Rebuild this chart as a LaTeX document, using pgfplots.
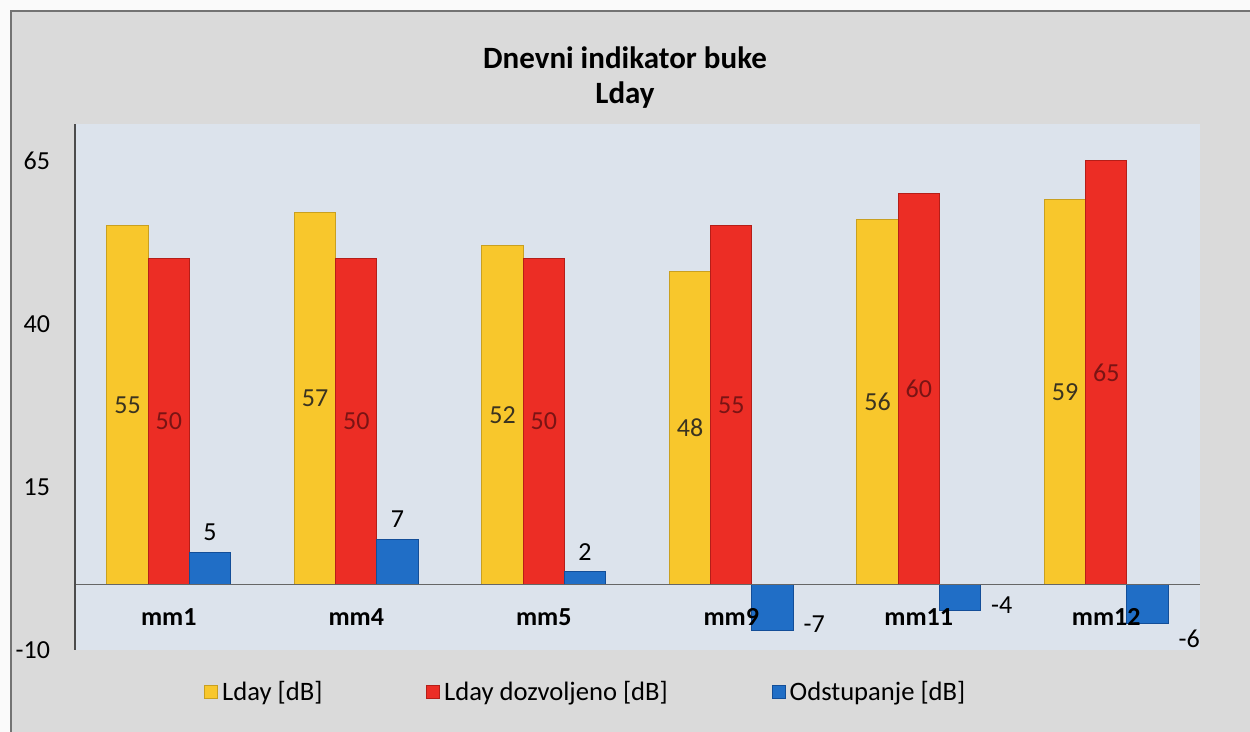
\documentclass[border=0pt]{standalone}
\usepackage{pgfplots}
\pgfplotsset{compat=1.18}
\usepackage{fontspec}
\setmainfont{Carlito}
\definecolor{paper}{HTML}{DADADA}
\definecolor{plotbg}{HTML}{DCE3EC}
\definecolor{yel}{HTML}{F8C72C}
\definecolor{yeld}{HTML}{C9A020}
\definecolor{redm}{HTML}{EC2D25}
\definecolor{redd}{HTML}{B51E18}
\definecolor{blum}{HTML}{206EC6}
\definecolor{blud}{HTML}{134E98}
\definecolor{redlab}{HTML}{7A1414}
\definecolor{yellab}{HTML}{3A3320}

\pgfplotstableread{
x lday dozv
0 55 50
1 57 50
2 52 50
3 48 55
4 56 60
5 59 65
}\mainvals
\pgfplotstableread{
x odst
0 5
1 7
2 2
}\odstpos
\pgfplotstableread{
x odst
3 -7
4 -4
}\odstneg
\pgfplotstableread{
x odst
5 -6
}\odstnegb

\begin{document}
\begin{tikzpicture}[x=1pt,y=1pt]
\useasboundingbox (0,0) rectangle (625,366);
\fill[white!96!gray] (0,0) rectangle (625,366);
\fill[paper] (5.5,0) rectangle (625,360.5);
\draw[black!55, line width=0.8pt] (5.5,-2) -- (5.5,360.5) -- (630,360.5);
\node[font=\fontsize{15.5}{18}\selectfont\bfseries] at (312.5,337) {Dnevni indikator buke};
\node[font=\fontsize{15.5}{18}\selectfont\bfseries] at (312.5,318.5) {Lday};
\begin{axis}[
  at={(37.5pt,41pt)}, anchor=south west,
  scale only axis, width=562.5pt, height=263pt,
  xmin=-0.5, xmax=5.5, ymin=-10, ymax=70.6,
  axis background/.style={fill=plotbg},
  axis on top,
  axis lines*=left,
  x axis line style={draw=none},
  y axis line style={black!70, line width=0.6pt},
  major tick length=0pt,
  xtick={0,1,2,3,4,5},
  xticklabels={mm1,mm4,mm5,mm9,mm11,mm12},
  xticklabel style={font=\fontsize{13}{15}\selectfont\bfseries, anchor=center, yshift=16.5pt},
  ytick={-10,15,40,65},
  yticklabels={-10,15,40,65},
  yticklabel style={font=\fontsize{13}{15}\selectfont, xshift=-9pt},
  ybar, bar width=0.22,
  /pgf/number format/assume math mode=true,
  clip=false,
  legend columns=3,
  legend style={at={(0.455,-0.08)}, anchor=center, draw=none, fill=none,
    font=\fontsize{13.3}{15}\selectfont,
    /tikz/every even column/.append style={column sep=50pt}},
  legend image code/.code={\path[#1] (0pt,-3.2pt) rectangle (6.4pt,3.2pt);},
]
\addplot[ybar, bar shift=-0.22, draw=yeld, line width=0.5pt, fill=yel,
  visualization depends on=rawy\as\rawy,
  nodes near coords,
  every node near coord/.append style={anchor=center, text=yellab,
    font=\fontsize{13}{15}\selectfont, yshift=-1.6308*\rawy pt}]
  table[x=x,y=lday]{\mainvals};
\addlegendentry{Lday [dB]}
\addplot[ybar, bar shift=0, draw=redd, line width=0.5pt, fill=redm,
  visualization depends on=rawy\as\rawy,
  nodes near coords,
  every node near coord/.append style={anchor=center, text=redlab,
    font=\fontsize{13}{15}\selectfont, yshift=-1.6308*\rawy pt}]
  table[x=x,y=dozv]{\mainvals};
\addlegendentry{Lday dozvoljeno [dB]}
\addplot[ybar, bar shift=0.22, draw=blud, line width=0.5pt, fill=blum,
  nodes near coords,
  every node near coord/.append style={anchor=south, text=black,
    font=\fontsize{13}{15}\selectfont, yshift=2pt}]
  table[x=x,y=odst]{\odstpos};
\addlegendentry{Odstupanje [dB]}
\addplot[ybar, bar shift=0.22, draw=blud, line width=0.5pt, fill=blum, forget plot,
  nodes near coords,
  every node near coord/.append style={anchor=west, text=black,
    font=\fontsize{13}{15}\selectfont, xshift=12pt, yshift=3pt}]
  table[x=x,y=odst]{\odstneg};
\addplot[ybar, bar shift=0.22, draw=blud, line width=0.5pt, fill=blum, forget plot,
  nodes near coords,
  every node near coord/.append style={anchor=west, text=black,
    font=\fontsize{13}{15}\selectfont, xshift=12pt, yshift=-7.5pt}]
  table[x=x,y=odst]{\odstnegb};
\draw[black!60, line width=0.6pt] (axis cs:-0.5,0) -- (axis cs:5.5,0);
\end{axis}
\end{tikzpicture}
\end{document}
